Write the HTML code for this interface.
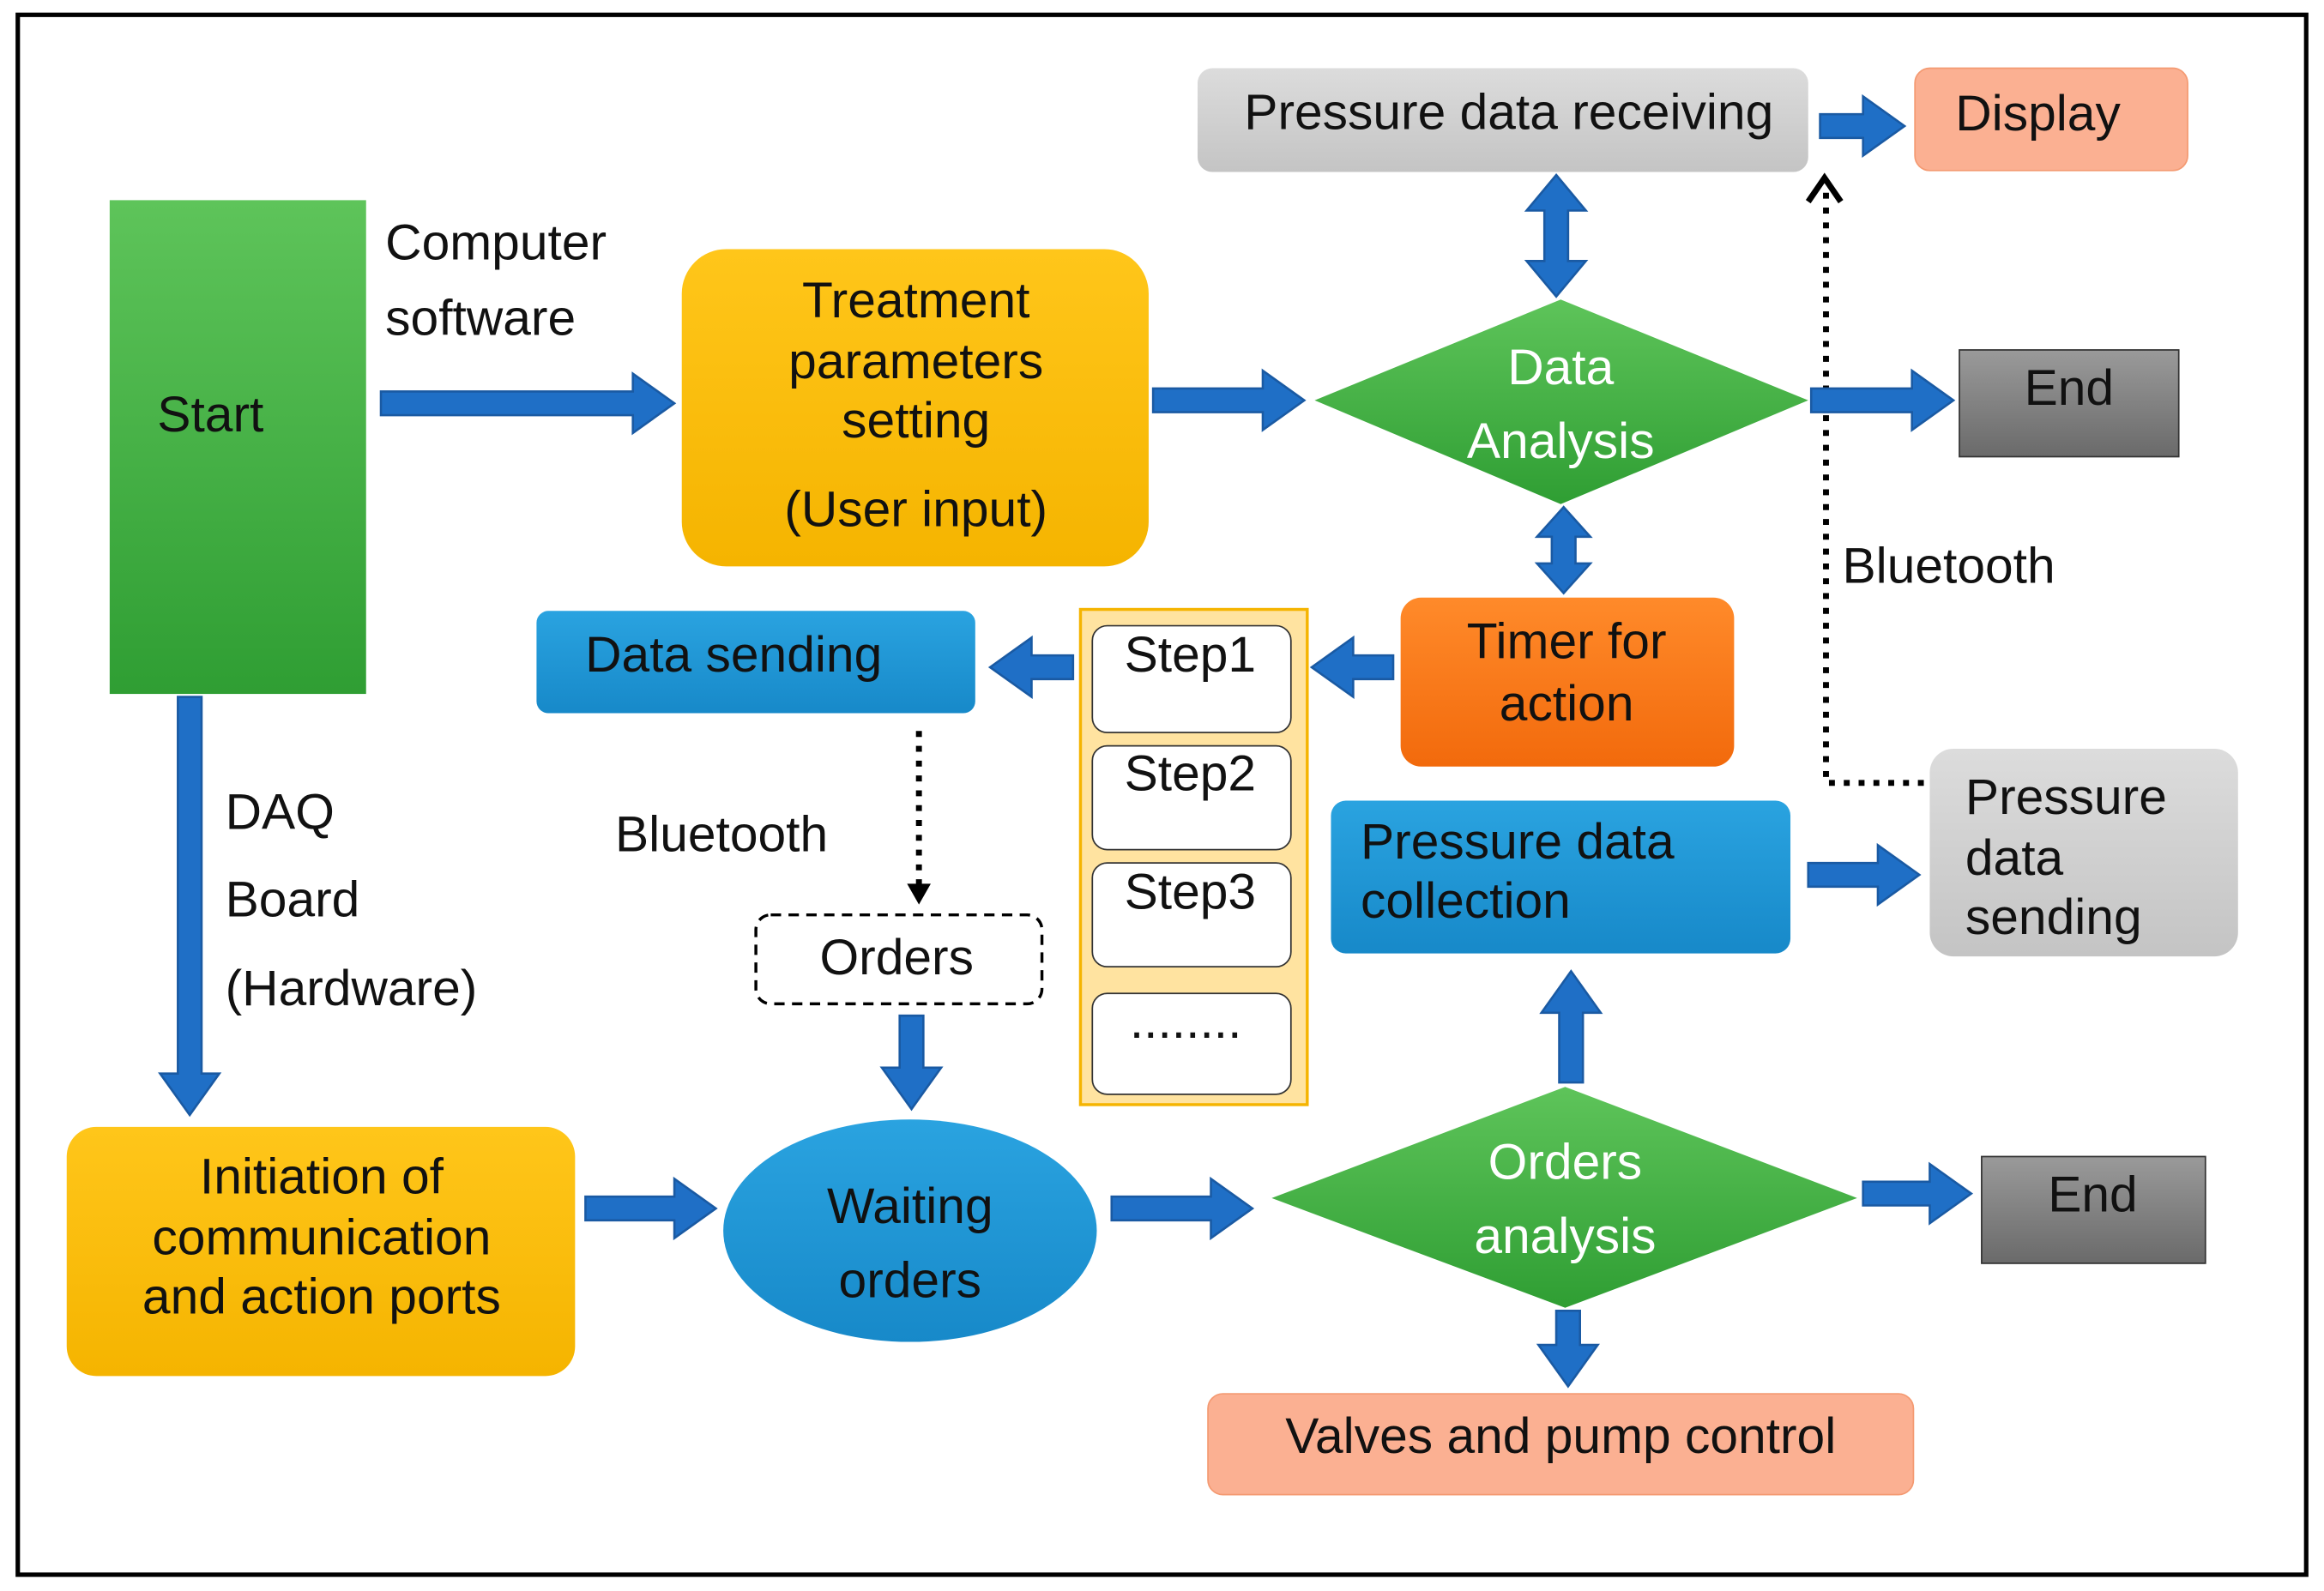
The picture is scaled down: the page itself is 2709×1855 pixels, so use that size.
<!DOCTYPE html>
<html><head><meta charset="utf-8"><style>
html,body{margin:0;padding:0;background:#fff}
svg{display:block}
text{font-family:"Liberation Sans",sans-serif;font-size:34px;fill:#111}
.w{fill:#fff}
.m{text-anchor:middle}
.a{fill:#1f6fc6;stroke:#1a5aa3;stroke-width:1.5}
</style></head><body>
<svg width="2709" height="1855" viewBox="0 0 1568 1073" preserveAspectRatio="none" xmlns="http://www.w3.org/2000/svg">
<defs>
<linearGradient id="g" x1="0" y1="0" x2="0" y2="1"><stop offset="0" stop-color="#5ec45a"/><stop offset="1" stop-color="#2f9e33"/></linearGradient>
<linearGradient id="y" x1="0" y1="0" x2="0" y2="1"><stop offset="0" stop-color="#ffc61a"/><stop offset="1" stop-color="#f5b400"/></linearGradient>
<linearGradient id="b" x1="0" y1="0" x2="0" y2="1"><stop offset="0" stop-color="#2aa3e0"/><stop offset="1" stop-color="#1789c9"/></linearGradient>
<linearGradient id="gr" x1="0" y1="0" x2="0" y2="1"><stop offset="0" stop-color="#dcdcdc"/><stop offset="1" stop-color="#c4c4c4"/></linearGradient>
<linearGradient id="e" x1="0" y1="0" x2="0" y2="1"><stop offset="0" stop-color="#9a9a9a"/><stop offset="1" stop-color="#6a6a6a"/></linearGradient>
<linearGradient id="o" x1="0" y1="0" x2="0" y2="1"><stop offset="0" stop-color="#ff8a2a"/><stop offset="1" stop-color="#f26a0c"/></linearGradient>
</defs>
<rect x="12" y="10" width="1544" height="1052" fill="none" stroke="#000" stroke-width="3"/>

<rect x="74" y="135" width="173" height="333" fill="url(#g)"/>
<text x="142" y="291" class="m">Start</text>
<text x="260" y="175">Computer</text>
<text x="260" y="226">software</text>

<rect x="460" y="168" width="315" height="214" rx="30" fill="url(#y)"/>
<text x="618" y="214" class="m">Treatment</text>
<text x="618" y="255" class="m">parameters</text>
<text x="618" y="295" class="m">setting</text>
<text x="618" y="355" class="m">(User input)</text>

<polygon points="887,270 1053,202 1220,270 1053,340" fill="url(#g)"/>
<text x="1053" y="259" class="m w">Data</text>
<text x="1053" y="309" class="m w">Analysis</text>

<rect x="808" y="46" width="412" height="70" rx="10" fill="url(#gr)"/>
<text x="1018" y="87" class="m">Pressure data receiving</text>
<rect x="1292" y="46" width="184" height="69" rx="10" fill="#fbb092" stroke="#f49a72"/>
<text x="1375" y="88" class="m">Display</text>

<rect x="1322" y="236" width="148" height="72" fill="url(#e)" stroke="#333"/>
<text x="1396" y="273" class="m">End</text>

<rect x="945" y="403" width="225" height="114" rx="14" fill="url(#o)"/>
<text x="1057" y="444" class="m">Timer for</text>
<text x="1057" y="486" class="m">action</text>

<rect x="729" y="411" width="153" height="334" fill="#ffe3a0" stroke="#f5b400" stroke-width="2"/>
<rect x="737" y="422" width="134" height="72" rx="10" fill="#fff" stroke="#333"/>
<rect x="737" y="503" width="134" height="70" rx="10" fill="#fff" stroke="#333"/>
<rect x="737" y="582" width="134" height="70" rx="10" fill="#fff" stroke="#333"/>
<rect x="737" y="670" width="134" height="68" rx="10" fill="#fff" stroke="#333"/>
<text x="803" y="453" class="m">Step1</text>
<text x="803" y="533" class="m">Step2</text>
<text x="803" y="613" class="m">Step3</text>
<text x="800" y="700" class="m">........</text>

<rect x="362" y="412" width="296" height="69" rx="8" fill="url(#b)"/>
<text x="495" y="453" class="m">Data sending</text>
<line x1="620" y1="493" x2="620" y2="598" stroke="#000" stroke-width="4" stroke-dasharray="4,6"/>
<polygon points="612,596 628,596 620,610" fill="#000"/>
<text x="415" y="574">Bluetooth</text>

<rect x="510" y="617" width="193" height="60" rx="10" fill="#fff" stroke="#000" stroke-width="2" stroke-dasharray="7,5"/>
<text x="605" y="657" class="m">Orders</text>

<ellipse cx="614" cy="830" rx="126" ry="75" fill="url(#b)"/>
<text x="614" y="825" class="m">Waiting</text>
<text x="614" y="875" class="m">orders</text>

<text x="152" y="559">DAQ</text>
<text x="152" y="618">Board</text>
<text x="152" y="678">(Hardware)</text>

<rect x="45" y="760" width="343" height="168" rx="20" fill="url(#y)"/>
<text x="217" y="805" class="m">Initiation of</text>
<text x="217" y="846" class="m">communication</text>
<text x="217" y="886" class="m">and action ports</text>

<polygon points="858,808 1056,733 1253,808 1056,882" fill="url(#g)"/>
<text x="1056" y="795" class="m w">Orders</text>
<text x="1056" y="845" class="m w">analysis</text>

<rect x="898" y="540" width="310" height="103" rx="10" fill="url(#b)"/>
<text x="918" y="579">Pressure data</text>
<text x="918" y="619">collection</text>

<rect x="1302" y="505" width="208" height="140" rx="16" fill="url(#gr)"/>
<text x="1326" y="549">Pressure</text>
<text x="1326" y="590">data</text>
<text x="1326" y="630">sending</text>

<polyline points="1298,528 1232,528 1232,128" fill="none" stroke="#000" stroke-width="4" stroke-dasharray="4,6"/>
<polyline points="1220,136 1231,120 1242,136" fill="none" stroke="#000" stroke-width="4"/>
<text x="1243" y="393">Bluetooth</text>

<rect x="1337" y="780" width="151" height="72" fill="url(#e)" stroke="#333"/>
<text x="1412" y="817" class="m">End</text>

<rect x="815" y="940" width="476" height="68" rx="10" fill="#fbb092" stroke="#f49a72"/>
<text x="1053" y="980" class="m">Valves and pump control</text>

<polygon class="a" points="257,264 427,264 427,252 455,272 427,292 427,280 257,280"/>
<polygon class="a" points="778,262 852,262 852,250 880,270 852,290 852,278 778,278"/>
<polygon class="a" points="1228,77 1257,77 1257,65 1285,85 1257,105 1257,93 1228,93"/>
<polygon class="a" points="1222,262 1290,262 1290,250 1318,270 1290,290 1290,278 1222,278"/>
<polygon class="a" points="940,442 913,442 913,430 885,450 913,470 913,458 940,458"/>
<polygon class="a" points="724,442 696,442 696,430 668,450 696,470 696,458 724,458"/>
<polygon class="a" points="607,685 607,720 595,720 615,748 635,720 623,720 623,685"/>
<polygon class="a" points="120,470 120,724 108,724 128,752 148,724 136,724 136,470"/>
<polygon class="a" points="395,807 455,807 455,795 483,815 455,835 455,823 395,823"/>
<polygon class="a" points="750,807 817,807 817,795 845,815 817,835 817,823 750,823"/>
<polygon class="a" points="1052,730 1052,683 1040,683 1060,655 1080,683 1068,683 1068,730"/>
<polygon class="a" points="1220,582 1267,582 1267,570 1295,590 1267,610 1267,598 1220,598"/>
<polygon class="a" points="1257,797 1302,797 1302,785 1330,805 1302,825 1302,813 1257,813"/>
<polygon class="a" points="1050,884 1050,907 1038,907 1058,935 1078,907 1066,907 1066,884"/>
<polygon class="a" points="1050,118 1070,142 1058,142 1058,176 1070,176 1050,200 1030,176 1042,176 1042,142 1030,142"/>
<polygon class="a" points="1055,342 1073,362 1063,362 1063,380 1073,380 1055,400 1037,380 1047,380 1047,362 1037,362"/>
</svg>
</body></html>
